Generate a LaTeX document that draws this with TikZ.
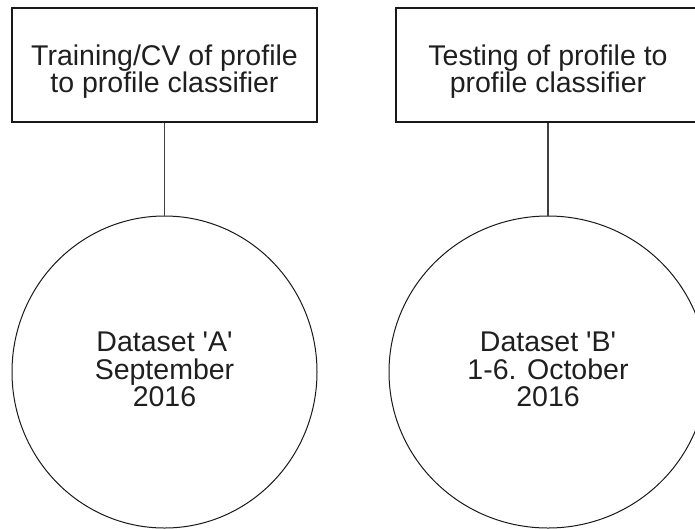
\documentclass[tikz,border=0pt]{standalone}
\usepackage{fontspec}
\setmainfont{Liberation Sans}
\usetikzlibrary{shapes.geometric}
\newcommand{\sq}{\textquotesingle}
\begin{document}
\begin{tikzpicture}[x=1pt,y=-1pt,
  every node/.style={font=\fontsize{28.5}{27.5}\selectfont, text=black!88, align=center, inner sep=0pt},
  taskbox/.style={draw=black!90, line width=1.1pt, rectangle, minimum width=305pt, minimum height=114pt},
  dataset/.style={draw=black!90, line width=1pt, ellipse, minimum height=312pt},
  link/.style={draw=black!75, line width=1.1pt}]
  \useasboundingbox (0,0) rectangle (695,528);
  % task boxes and their captions
  \node[taskbox] (ta) at (164.5,65) {};
  \node[taskbox, minimum width=304pt] (tb) at (548,65) {};
  \node (talabel) at (164.5,71.5) {Training/CV of profile\\to profile classifier};
  \node (tblabel) at (548,71.5) {Testing of profile to\\profile classifier};
  % datasets
  \node[dataset, minimum width=305pt] (ca) at (164.5,372) {};
  \node[dataset, minimum width=318pt] (cb) at (548,372) {};
  \node (calabel) at (164.5,369.5) {Dataset \sq A\sq\\September\\2016};
  \node (cblabel) at (548,369.5) {Dataset \sq B\sq\\1-6. October\\2016};
  % links
  \draw[link] (ta.south) -- (ca.north);
  \draw[link] (tb.south) -- (cb.north);
\end{tikzpicture}
\end{document}
